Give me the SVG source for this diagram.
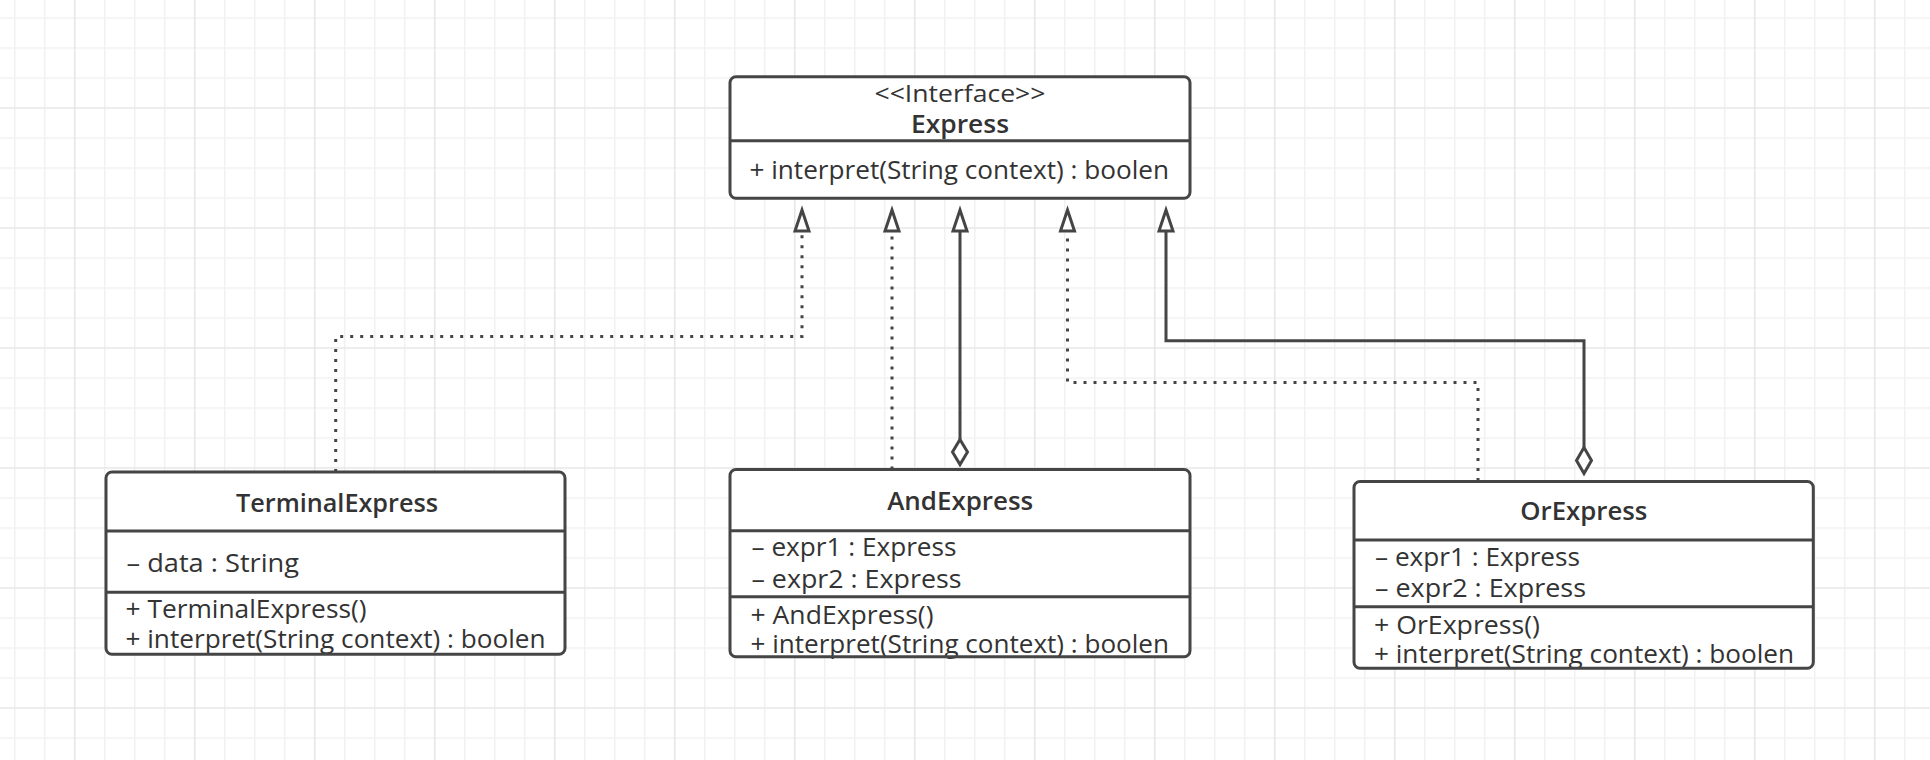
<svg xmlns="http://www.w3.org/2000/svg" width="1930" height="760" viewBox="0 0 1930 760">
  <defs>
    <pattern id="grid" patternUnits="userSpaceOnUse" x="-46" y="-12.75" width="120" height="120">
      <rect x="0" y="30" width="120" height="1.5" fill="#f1f1f1"/>
      <rect x="0" y="60" width="120" height="1.5" fill="#f1f1f1"/>
      <rect x="0" y="90" width="120" height="1.5" fill="#f1f1f1"/>
      <rect x="30" y="0" width="1.5" height="120" fill="#f1f1f1"/>
      <rect x="60" y="0" width="1.5" height="120" fill="#f1f1f1"/>
      <rect x="90" y="0" width="1.5" height="120" fill="#f1f1f1"/>
      <rect x="0" y="0" width="120" height="1.5" fill="#e6e6e6"/>
      <rect x="0" y="0" width="1.5" height="120" fill="#e6e6e6"/>
    </pattern>
  </defs>
  <style>
    .bg { fill: #ffffff; }
    .box { fill: #ffffff; stroke: none; }
    .border { fill: none; stroke: #454545; stroke-width: 3; }
    .div { stroke: #454545; stroke-width: 3; }
    .t { font-family: "Open Sans", "Liberation Sans", sans-serif; font-size: 25px; fill: #333333; }
    .b { font-weight: 600; text-anchor: middle; }
    .st { font-size: 24px; text-anchor: middle; }
    .solid { fill: none; stroke: #454545; stroke-width: 3; stroke-linejoin: miter; }
    .dot { fill: none; stroke: #454545; stroke-width: 3; stroke-dasharray: 3 7; }
    .head { fill: #ffffff; stroke: #454545; stroke-width: 3; stroke-linejoin: miter; }
  </style>
  <rect class="bg" x="0" y="0" width="1930" height="760"/>
  <rect x="0" y="0" width="1930" height="760" fill="url(#grid)"/>

  <g id="connectors">
    <!-- TerminalExpress realizes Express -->
    <path class="dot" d="M335.7,472 V336.5 H802 V231"/>
    <path class="head" d="M802,210 L809,231 L795,231 Z"/>
    <!-- AndExpress realizes Express -->
    <path class="dot" d="M892,469.5 V231"/>
    <path class="head" d="M892,210 L899,231 L885,231 Z"/>
    <!-- AndExpress aggregates Express -->
    <path class="solid" d="M960,439.5 V231"/>
    <path class="head" d="M960,210 L967,231 L953,231 Z"/>
    <path class="head" d="M960,439.5 L967.5,452 L960,464.5 L952.5,452 Z"/>
    <!-- OrExpress realizes Express -->
    <path class="dot" d="M1478,481 V382.5 H1067.5 V231"/>
    <path class="head" d="M1067.5,210 L1074.5,231 L1060.5,231 Z"/>
    <!-- OrExpress aggregates Express -->
    <path class="solid" d="M1584,447.5 V340.7 H1166 V231"/>
    <path class="head" d="M1166,210 L1173,231 L1159,231 Z"/>
    <path class="head" d="M1584,447.5 L1591.5,460.5 L1584,473.5 L1576.5,460.5 Z"/>
  </g>

  <g id="Express">
    <rect class="box" x="730" y="76.7" width="460" height="121.6" rx="6"/>
    <text class="t st" x="960" y="101.7" textLength="171" lengthAdjust="spacingAndGlyphs">&lt;&lt;Interface&gt;&gt;</text>
    <text class="t b" x="960" y="133.3" textLength="98" lengthAdjust="spacingAndGlyphs">Express</text>
    <line class="div" x1="730" y1="140.7" x2="1190" y2="140.7"/>
    <text class="t" x="749.5" y="179.3" textLength="419.5" lengthAdjust="spacingAndGlyphs">+ interpret(String context) : boolen</text>
    <rect class="border" x="730" y="76.7" width="460" height="121.6" rx="6"/>
  </g>

  <g id="TerminalExpress">
    <rect class="box" x="106" y="472" width="459" height="182.3" rx="6"/>
    <text class="t b" x="337" y="512.3" textLength="202" lengthAdjust="spacingAndGlyphs">TerminalExpress</text>
    <line class="div" x1="106" y1="531" x2="565" y2="531"/>
    <text class="t" x="126.5" y="571.7" textLength="172.5" lengthAdjust="spacingAndGlyphs">– data : String</text>
    <line class="div" x1="106" y1="592.3" x2="565" y2="592.3"/>
    <text class="t" x="125.5" y="618.3" textLength="241" lengthAdjust="spacingAndGlyphs">+ TerminalExpress()</text>
    <text class="t" x="125.5" y="648.3" textLength="420" lengthAdjust="spacingAndGlyphs">+ interpret(String context) : boolen</text>
    <rect class="border" x="106" y="472" width="459" height="182.3" rx="6"/>
  </g>

  <g id="AndExpress">
    <rect class="box" x="730" y="469.5" width="460" height="187.2" rx="6"/>
    <text class="t b" x="960.2" y="510" textLength="146" lengthAdjust="spacingAndGlyphs">AndExpress</text>
    <line class="div" x1="730" y1="530.7" x2="1190" y2="530.7"/>
    <text class="t" x="751.5" y="555.7" textLength="205" lengthAdjust="spacingAndGlyphs">– expr1 : Express</text>
    <text class="t" x="751.5" y="587.7" textLength="210" lengthAdjust="spacingAndGlyphs">– expr2 : Express</text>
    <line class="div" x1="730" y1="596.7" x2="1190" y2="596.7"/>
    <text class="t" x="750.5" y="624" textLength="183" lengthAdjust="spacingAndGlyphs">+ AndExpress()</text>
    <text class="t" x="750.5" y="653" textLength="418.5" lengthAdjust="spacingAndGlyphs">+ interpret(String context) : boolen</text>
    <rect class="border" x="730" y="469.5" width="460" height="187.2" rx="6"/>
  </g>

  <g id="OrExpress">
    <rect class="box" x="1354" y="481.5" width="459.3" height="186.8" rx="6"/>
    <text class="t b" x="1583.8" y="520" textLength="127" lengthAdjust="spacingAndGlyphs">OrExpress</text>
    <line class="div" x1="1354" y1="540" x2="1813.3" y2="540"/>
    <text class="t" x="1375" y="566" textLength="205" lengthAdjust="spacingAndGlyphs">– expr1 : Express</text>
    <text class="t" x="1375" y="597.3" textLength="211" lengthAdjust="spacingAndGlyphs">– expr2 : Express</text>
    <line class="div" x1="1354" y1="606.7" x2="1813.3" y2="606.7"/>
    <text class="t" x="1374" y="634" textLength="166" lengthAdjust="spacingAndGlyphs">+ OrExpress()</text>
    <text class="t" x="1374" y="663" textLength="420" lengthAdjust="spacingAndGlyphs">+ interpret(String context) : boolen</text>
    <rect class="border" x="1354" y="481.5" width="459.3" height="186.8" rx="6"/>
  </g>
</svg>
